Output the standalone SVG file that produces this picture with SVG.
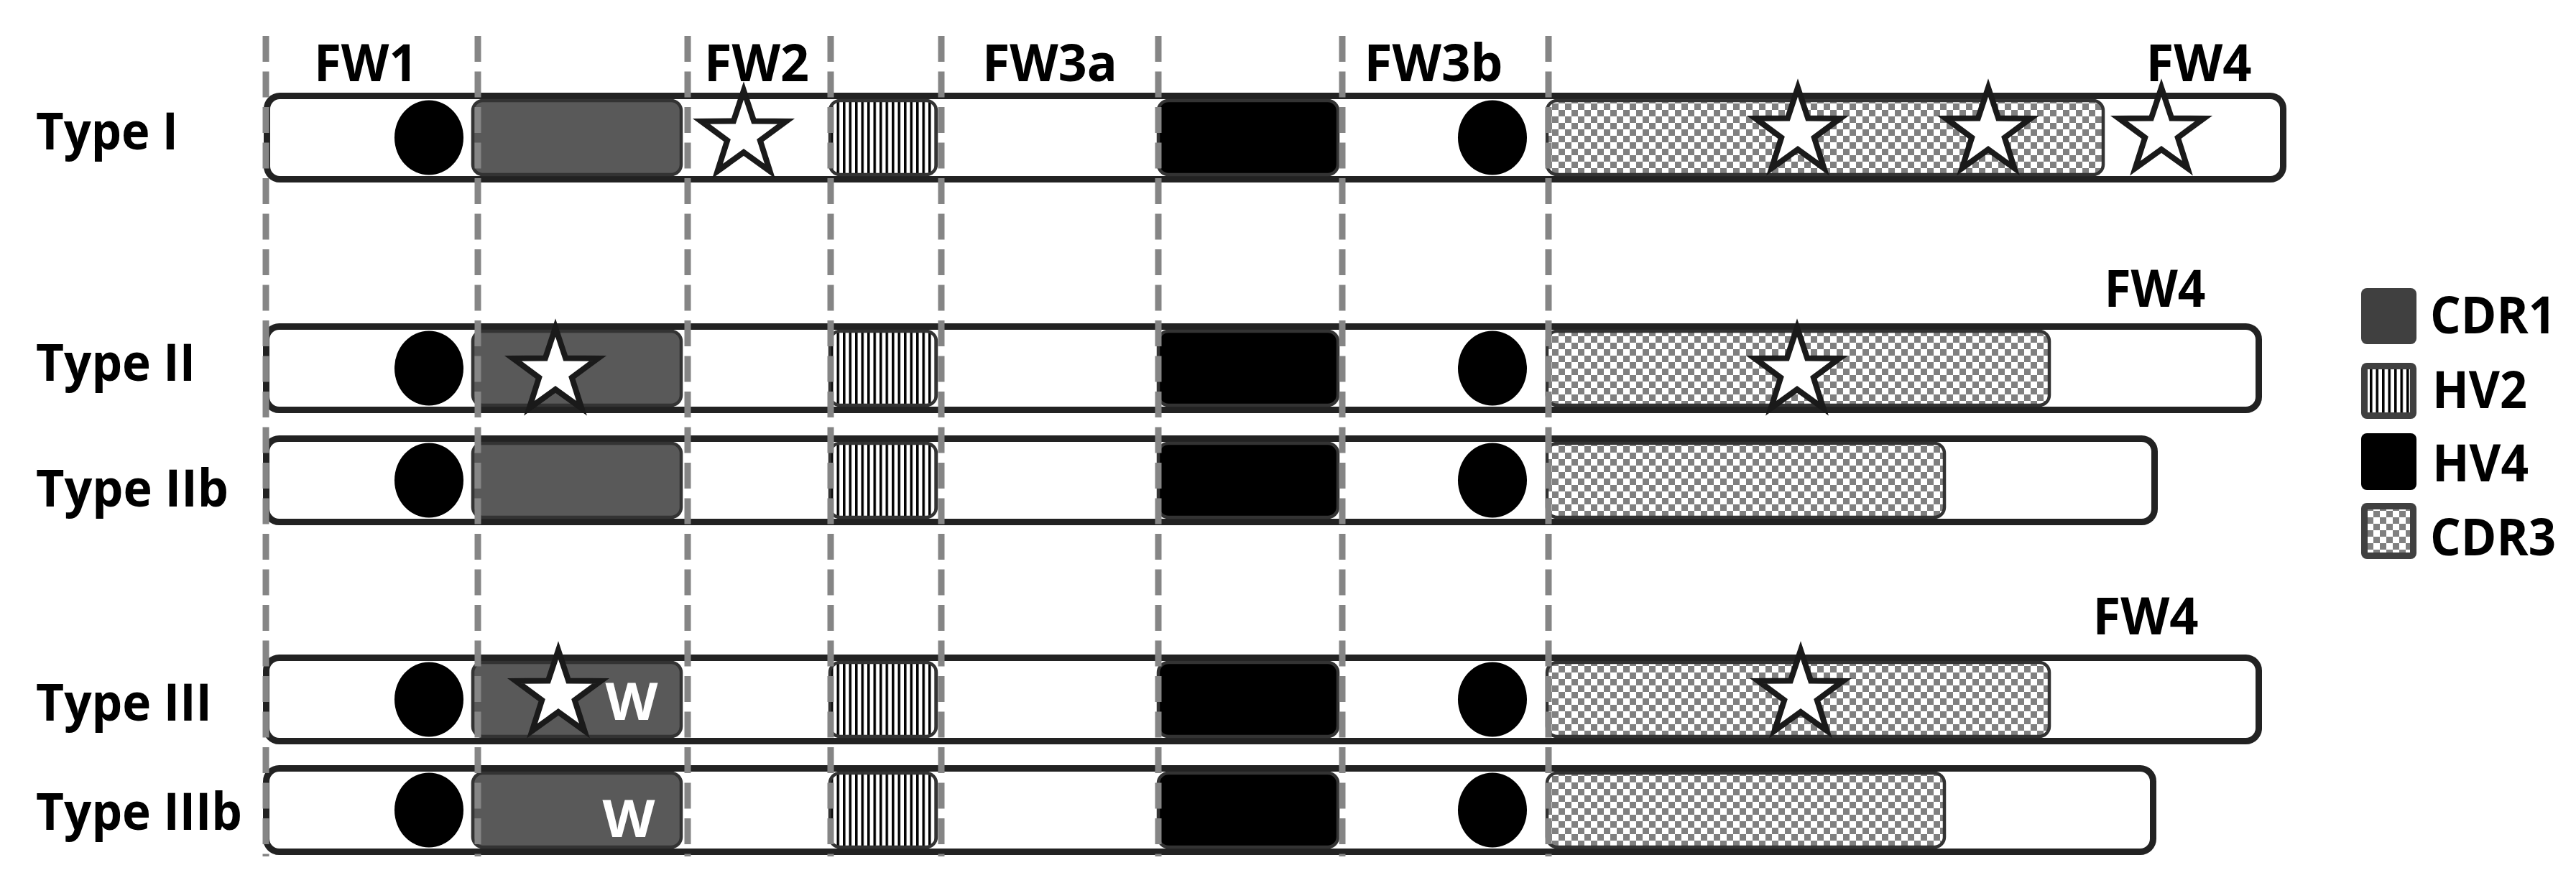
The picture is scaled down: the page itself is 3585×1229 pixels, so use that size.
<svg xmlns="http://www.w3.org/2000/svg" xmlns:xlink="http://www.w3.org/1999/xlink" width="3585" height="1229" viewBox="0 0 3585 1229">
<style>
.bar{fill:#fff;stroke:#222;stroke-width:9}
.box{stroke:#333;stroke-width:4.5}
.cdr1{fill:#595959}
.hv2{fill:url(#stripes)}
.hv4{fill:#000}
.cdr3{fill:url(#checker)}
.dot{fill:#000}
.star{fill:#fff;stroke:#1a1a1a;stroke-width:8;stroke-miterlimit:10;stroke-linejoin:miter}
.div{stroke:#858585;stroke-width:9;stroke-dasharray:36 13.5;fill:none}
.lbl{font-family:'Open Sans','Liberation Sans',sans-serif;font-weight:700;font-size:72px;fill:#000}
.w{font-family:'Open Sans','Liberation Sans',sans-serif;font-weight:700;font-size:72px;fill:#fff;text-anchor:middle}
.mid{text-anchor:middle}
.leg{fill:#404040}
</style>
<defs>
<pattern id="stripes" width="8.5" height="20" patternUnits="userSpaceOnUse"><rect width="8.5" height="20" fill="#fff"/><rect width="3.5" height="20" fill="#000"/></pattern>
<pattern id="checker" width="18" height="18" patternUnits="userSpaceOnUse"><rect width="18" height="18" fill="#fff"/><rect width="9" height="9" fill="#808080"/><rect x="9" y="9" width="9" height="9" fill="#808080"/></pattern>
<path id="star" class="star" d="M0,-62 L14.11,-19.42 L58.97,-19.16 L22.83,7.42 L36.44,50.16 L0,24 L-36.44,50.16 L-22.83,7.42 L-58.97,-19.16 L-14.11,-19.42 Z"/>
</defs>
<rect width="3585" height="1229" fill="#fff"/>

<g id="header">
<text class="lbl mid" x="509" y="113" textLength="144" lengthAdjust="spacingAndGlyphs">FW1</text>
<text class="lbl mid" x="1053" y="113" textLength="146" lengthAdjust="spacingAndGlyphs">FW2</text>
<text class="lbl mid" x="1461" y="113" textLength="188" lengthAdjust="spacingAndGlyphs">FW3a</text>
<text class="lbl mid" x="1995" y="113" textLength="193" lengthAdjust="spacingAndGlyphs">FW3b</text>
<text class="lbl mid" x="3060" y="113" textLength="147" lengthAdjust="spacingAndGlyphs">FW4</text>
</g>

<g id="type-I">
<text class="lbl" x="50" y="208" textLength="198" lengthAdjust="spacingAndGlyphs">Type I</text>
<rect class="bar" x="371.5" y="133.5" width="2806" height="116" rx="18"/>
<rect class="box cdr1" x="658" y="140" width="290" height="103" rx="14"/>
<rect class="box hv2" x="1155" y="140" width="148" height="103" rx="14"/>
<rect class="box hv4" x="1612" y="140" width="250" height="103" rx="14"/>
<rect class="box cdr3" x="2153" y="140" width="774" height="103" rx="14"/>
<ellipse class="dot" cx="597" cy="191.5" rx="48" ry="52"/>
<ellipse class="dot" cx="2077" cy="191.5" rx="48" ry="52"/>
<use xlink:href="#star" x="1035" y="188"/>
<use xlink:href="#star" x="2502" y="184"/>
<use xlink:href="#star" x="2767" y="184"/>
<use xlink:href="#star" x="3008" y="184"/>
</g>

<g id="type-II">
<text class="lbl mid" x="2999" y="427" textLength="141" lengthAdjust="spacingAndGlyphs">FW4</text>
<text class="lbl" x="50" y="530" textLength="222" lengthAdjust="spacingAndGlyphs">Type II</text>
<rect class="bar" x="370.5" y="454.5" width="2773" height="116" rx="18"/>
<rect class="box cdr1" x="658" y="461" width="290" height="103" rx="14"/>
<rect class="box hv2" x="1155" y="461" width="148" height="103" rx="14"/>
<rect class="box hv4" x="1612" y="461" width="250" height="103" rx="14"/>
<rect class="box cdr3" x="2153" y="461" width="699" height="103" rx="14"/>
<ellipse class="dot" cx="597" cy="512.5" rx="48" ry="52"/>
<ellipse class="dot" cx="2077" cy="512.5" rx="48" ry="52"/>
<use xlink:href="#star" x="773" y="518"/>
<use xlink:href="#star" x="2501" y="518"/>
</g>

<g id="type-IIb">
<text class="lbl" x="50" y="705" textLength="268" lengthAdjust="spacingAndGlyphs">Type IIb</text>
<rect class="bar" x="370.5" y="610.5" width="2628" height="116" rx="18"/>
<rect class="box cdr1" x="658" y="617" width="290" height="103" rx="14"/>
<rect class="box hv2" x="1155" y="617" width="148" height="103" rx="14"/>
<rect class="box hv4" x="1612" y="617" width="250" height="103" rx="14"/>
<rect class="box cdr3" x="2153" y="617" width="553" height="103" rx="14"/>
<ellipse class="dot" cx="597" cy="668.5" rx="48" ry="52"/>
<ellipse class="dot" cx="2077" cy="668.5" rx="48" ry="52"/>
</g>

<g id="type-III">
<text class="lbl mid" x="2986" y="883" textLength="147" lengthAdjust="spacingAndGlyphs">FW4</text>
<text class="lbl" x="50" y="1003" textLength="245" lengthAdjust="spacingAndGlyphs">Type III</text>
<rect class="bar" x="370.5" y="915.5" width="2773" height="116" rx="18"/>
<rect class="box cdr1" x="658" y="922" width="290" height="103" rx="14"/>
<rect class="box hv2" x="1155" y="922" width="148" height="103" rx="14"/>
<rect class="box hv4" x="1612" y="922" width="250" height="103" rx="14"/>
<rect class="box cdr3" x="2153" y="922" width="699" height="103" rx="14"/>
<ellipse class="dot" cx="597" cy="973.5" rx="48" ry="52"/>
<ellipse class="dot" cx="2077" cy="973.5" rx="48" ry="52"/>
<use xlink:href="#star" x="777" y="967"/>
<use xlink:href="#star" x="2506" y="967"/>
<text class="w" x="879" y="1002" textLength="73" lengthAdjust="spacingAndGlyphs">W</text>
</g>

<g id="type-IIIb">
<text class="lbl" x="50" y="1155" textLength="287" lengthAdjust="spacingAndGlyphs">Type IIIb</text>
<rect class="bar" x="370.5" y="1069.5" width="2626" height="116" rx="18"/>
<rect class="box cdr1" x="658" y="1076" width="290" height="103" rx="14"/>
<rect class="box hv2" x="1155" y="1076" width="148" height="103" rx="14"/>
<rect class="box hv4" x="1612" y="1076" width="250" height="103" rx="14"/>
<rect class="box cdr3" x="2153" y="1076" width="553" height="103" rx="14"/>
<ellipse class="dot" cx="597" cy="1127.5" rx="48" ry="52"/>
<ellipse class="dot" cx="2077" cy="1127.5" rx="48" ry="52"/>
<text class="w" x="875" y="1165" textLength="73" lengthAdjust="spacingAndGlyphs">W</text>
</g>

<g id="dividers">
<line class="div" x1="370" y1="50" x2="370" y2="1192"/>
<line class="div" x1="665" y1="50" x2="665" y2="1192"/>
<line class="div" x1="957" y1="50" x2="957" y2="1192"/>
<line class="div" x1="1156" y1="50" x2="1156" y2="1192"/>
<line class="div" x1="1310" y1="50" x2="1310" y2="1192"/>
<line class="div" x1="1612" y1="50" x2="1612" y2="1192"/>
<line class="div" x1="1868" y1="50" x2="1868" y2="1192"/>
<line class="div" x1="2155" y1="50" x2="2155" y2="1192"/>
</g>

<g id="legend">
<rect class="leg" x="3286" y="401" width="77" height="78" rx="8"/>
<text class="lbl" x="3382" y="464" textLength="175" lengthAdjust="spacingAndGlyphs">CDR1</text>
<rect class="leg" x="3286" y="505" width="77" height="78" rx="8"/>
<rect x="3295" y="514" width="59" height="60" fill="url(#stripes)"/>
<text class="lbl" x="3385" y="568" textLength="132" lengthAdjust="spacingAndGlyphs">HV2</text>
<rect x="3286" y="603" width="77" height="79" rx="8" fill="#000"/>
<text class="lbl" x="3385" y="670" textLength="134" lengthAdjust="spacingAndGlyphs">HV4</text>
<rect class="leg" x="3286" y="700" width="77" height="78" rx="8"/>
<rect x="3295" y="709" width="59" height="60" fill="url(#checker)"/>
<text class="lbl" x="3382" y="773" textLength="175" lengthAdjust="spacingAndGlyphs">CDR3</text>
</g>
</svg>
